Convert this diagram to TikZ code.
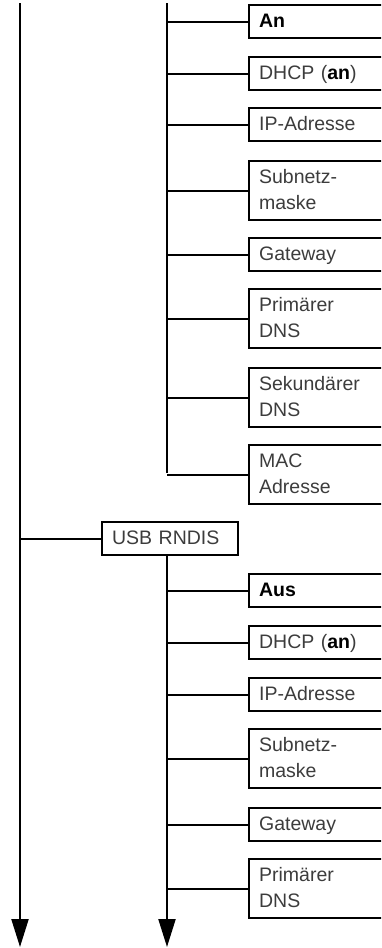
\documentclass[tikz,border=0pt]{standalone}
\usepackage{fontspec}
\setmainfont{Liberation Sans}
\usetikzlibrary{arrows.meta}
\definecolor{txtcol}{RGB}{60,60,60}
\newcommand\setval[1]{\textbf{\color{black}#1}}

\begin{document}
\begin{tikzpicture}[
  x=1pt, y=-1pt,
  >={Triangle[length=28pt,width=17pt]},
  line width=2.2pt,
  menu/.style={draw,anchor=north west,inner xsep=10pt,inner ysep=0pt,
               text width=120pt,align=left,text=txtcol,
               font=\fontsize{19.5}{26}\selectfont,
               execute at begin node={\rule{0pt}{22.5pt}},
               execute at end node={\rule[-10.5pt]{0pt}{0pt}}},
  sub/.style={menu,text width=116pt},
]

  \useasboundingbox (0,0) rectangle (381,948);
  \clip (0,0) rectangle (381,948);

  % --- trunks ---
  \coordinate (lt) at (20,3);
  \coordinate (lb) at (20,947);
  \coordinate (mt) at (167,3);
  \coordinate (me) at (167,473);
  \coordinate (mb) at (167,947);

  % --- LAN entries ---
  \node[menu] (an)    at (248,4)   {\setval{An}};
  \node[menu] (dhcpa) at (248,56)  {DHCP (\setval{an})};
  \node[menu] (ipa)   at (248,107) {IP-Adresse};
  \node[menu] (maska) at (248,160) {Subnetz-\\maske};
  \node[menu] (gwa)   at (248,237) {Gateway};
  \node[menu] (dnsa)  at (248,288) {Primärer\\DNS};
  \node[menu] (dnsb)  at (248,367) {Sekundärer\\DNS};
  \node[menu] (mac)   at (248,444) {MAC\\Adresse};

  % --- USB RNDIS entries ---
  \node[sub]  (usb)   at (101,521) {USB RNDIS};
  \node[menu] (aus)   at (248,573) {\setval{Aus}};
  \node[menu] (dhcpb) at (248,625) {DHCP (\setval{an})};
  \node[menu] (ipb)   at (248,677) {IP-Adresse};
  \node[menu] (maskb) at (248,728) {Subnetz-\\maske};
  \node[menu] (gwb)   at (248,807) {Gateway};
  \node[menu] (dnsc)  at (248,858) {Primärer\\DNS};

  % --- connectors ---
  \draw[->] (lt) -- (lb);
  \draw (mt) -- (me);
  \foreach \n in {an,dhcpa,ipa,maska,gwa,dnsa,dnsb,mac}
    \draw (\n.west) -- (\n.west -| mt);
  \draw (usb.west) -- (usb.west -| lt);
  \draw[->] (usb.south -| mb) -- (mb);
  \foreach \n in {aus,dhcpb,ipb,maskb,gwb,dnsc}
    \draw (\n.west) -- (\n.west -| mb);

\end{tikzpicture}
\end{document}
